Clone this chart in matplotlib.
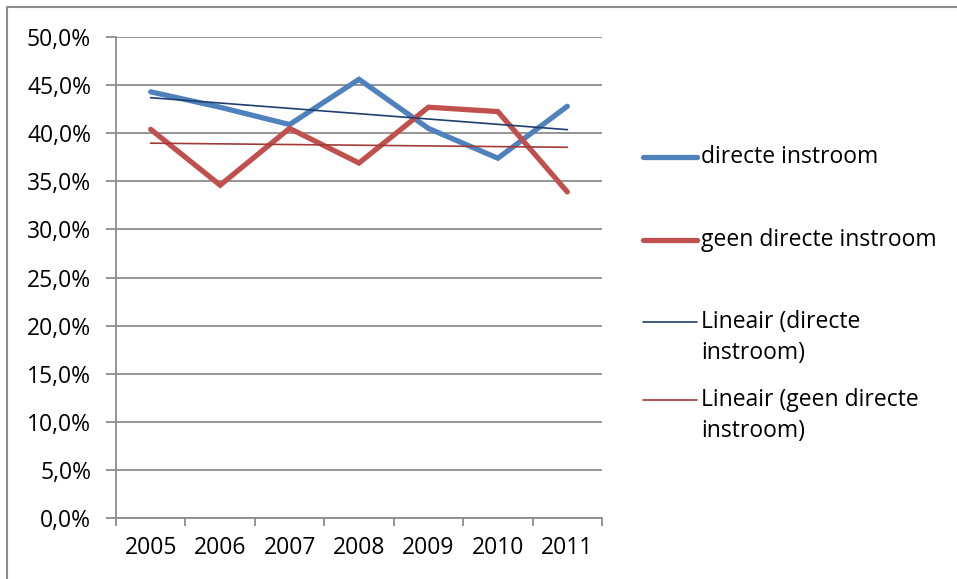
import matplotlib.pyplot as plt
import numpy as np
from matplotlib.lines import Line2D
from matplotlib.ticker import FuncFormatter

plt.rcParams["font.family"] = ["Open Sans", "DejaVu Sans"]

years = ["2005", "2006", "2007", "2008", "2009", "2010", "2011"]
direct = [44.3, 42.7, 40.9, 45.6, 40.5, 37.4, 42.8]
not_direct = [40.4, 34.6, 40.5, 36.9, 42.7, 42.25, 33.9]
labels = [
    "directe instroom",
    "geen directe instroom",
    "Lineair (directe\ninstroom)",
    "Lineair (geen directe\ninstroom)",
]

BLUE = "#4F81BD"
RED = "#C0504D"
BLUE_TREND = "#1F3F6E"
RED_TREND = "#A23B38"
GRID = "#8C8C8C"
FS = 16.5

fig = plt.figure(figsize=(9.57, 5.79), dpi=100)
ax = fig.add_axes([116 / 957, 61 / 579, 486 / 957, 481 / 579])

x = np.arange(len(years))
ax.plot(x, direct, color=BLUE, lw=3.8, solid_capstyle="round", solid_joinstyle="miter", zorder=3)
ax.plot(x, not_direct, color=RED, lw=3.8, solid_capstyle="round", solid_joinstyle="miter", zorder=3)

# least-squares trendlines, as Excel draws them
for vals, col in [(direct, BLUE_TREND), (not_direct, RED_TREND)]:
    k, b = np.polyfit(x, vals, 1)
    ax.plot(x, k * x + b, color=col, lw=1.2, zorder=4)

ax.set_xlim(-0.5, len(years) - 0.5)
ax.set_ylim(0, 50)
ax.set_yticks(np.arange(0, 51, 5))
ax.yaxis.set_major_formatter(FuncFormatter(lambda v, p: f"{v:.1f}".replace(".", ",") + "%"))
ax.yaxis.grid(True, color=GRID, lw=1.3)
ax.set_axisbelow(True)

ax.set_xticks(np.arange(-0.5, len(years), 1.0))
ax.set_xticklabels([])
ax.set_xticks(x, minor=True)
ax.set_xticklabels(years, minor=True)
ax.tick_params(axis="x", which="major", length=6, width=1.3, color=GRID)
ax.tick_params(axis="x", which="minor", length=0, pad=13, labelsize=FS)
ax.tick_params(axis="y", length=7, width=1.3, color=GRID, pad=11, labelsize=FS)

for s in ["top", "right"]:
    ax.spines[s].set_visible(False)
for s in ["left", "bottom"]:
    ax.spines[s].set_color(GRID)
    ax.spines[s].set_linewidth(1.3)

# legend, laid out like the Excel one
handles = [(BLUE, 3.8), (RED, 3.8), (BLUE_TREND, 1.2), (RED_TREND, 1.2)]
ys = [157, 240, 322, 400]
for (col, lw), lab, yp in zip(handles, labels, ys):
    yf = 1 - yp / 579
    fig.add_artist(Line2D([643 / 957, 697 / 957], [yf, yf], color=col, lw=lw,
                          solid_capstyle="round", transform=fig.transFigure))
    fig.text(701 / 957, yf + 12 / 579, lab, fontsize=16.5, va="top", ha="left",
             linespacing=1.4)

# chart border (left and top edges visible)
fig.add_artist(Line2D([7 / 957, 7 / 957, 1.0], [0.0, 1 - 7 / 579, 1 - 7 / 579],
                      color="#8C8C8C", lw=1.5, transform=fig.transFigure))

fig.savefig("out.png", dpi=100)
plt.close(fig)
